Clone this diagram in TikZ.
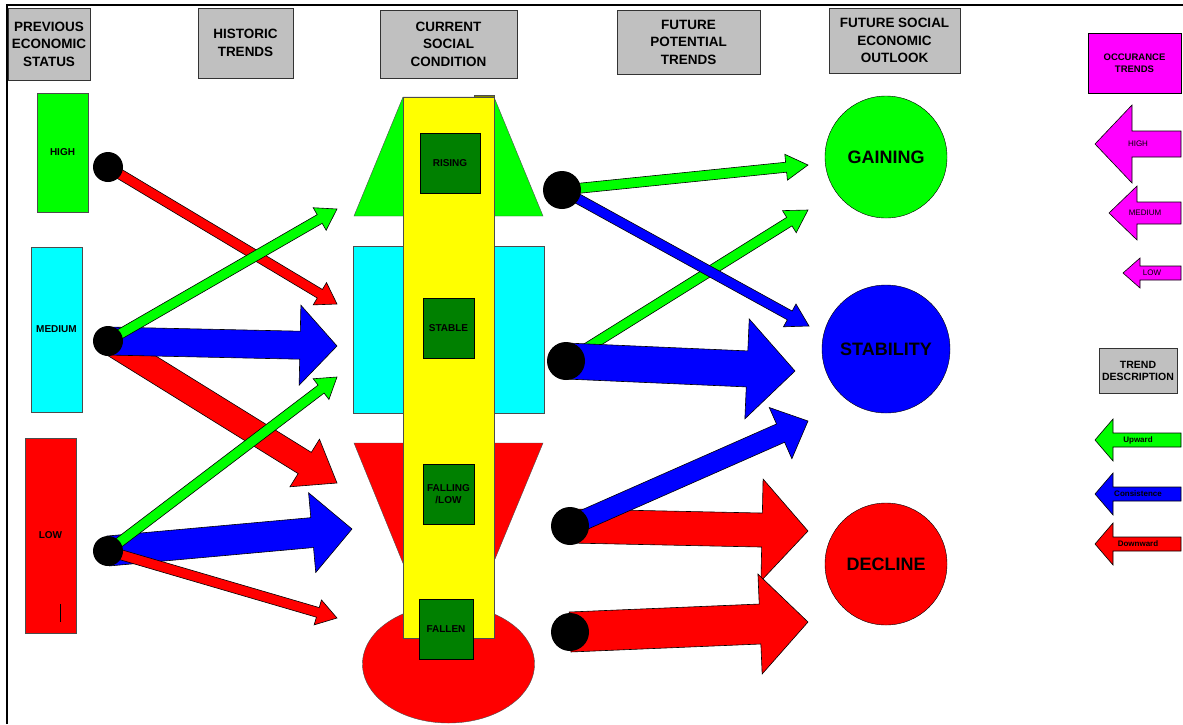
\documentclass[tikz,border=0pt]{standalone}
\usepackage{fontspec}
\setmainfont{Liberation Sans}
\usetikzlibrary{calc}

\definecolor{hdgray}{HTML}{C0C0C0}
\definecolor{brightgreen}{HTML}{00FF00}
\definecolor{darkgreen}{HTML}{008000}
\definecolor{tabolive}{HTML}{808000}
\definecolor{aqua}{HTML}{00FFFF}
\definecolor{fuchsia}{HTML}{FF00FF}
\definecolor{pureblue}{HTML}{0000FF}
\definecolor{purered}{HTML}{FF0000}
\definecolor{pureyellow}{HTML}{FFFF00}

% block arrow: colour, from, to, shaft half width, head half width, head length
\newcommand{\trendarrow}[6]{%
  \path ($(#3)!#6!(#2)$) coordinate (hb);
  \filldraw[fill=#1, draw=black, line width=0.6pt]
    ($(#2)!#4!90:(#3)$) -- ($(hb)!#4!-90:(#2)$) -- ($(hb)!#5!-90:(#2)$) -- (#3)
    -- ($(hb)!#5!90:(#2)$) -- ($(hb)!#4!90:(#2)$) -- ($(#2)!#4!-90:(#3)$) -- cycle;
}

\begin{document}
\begin{tikzpicture}[x=1pt, y=-1pt,
    hdr/.style={draw=black!80, fill=hdgray, align=center, inner sep=0pt,
      font=\bfseries\fontsize{13.5}{17.5}\selectfont},
    lvl/.style={draw=black!70, inner sep=0pt, minimum width=51pt,
      font=\bfseries\fontsize{10}{12}\selectfont},
    sq/.style={draw=black, fill=darkgreen, align=center, inner sep=0pt,
      font=\bfseries\fontsize{10}{12.5}\selectfont},
    dot/.style={circle, fill=black, inner sep=0pt},
    outlook/.style={circle, draw=black, inner sep=0pt, minimum size=122pt,
      font=\bfseries\fontsize{18}{20}\selectfont},
    leg/.style={inner sep=0pt, font=\fontsize{8}{9}\selectfont},
  ]
  \useasboundingbox (0,0) rectangle (1183,724);
  \draw[line width=1.6pt] (7,724) -- (7,5) -- (1183,5);

  % headers
  \node[hdr, minimum width=82pt, minimum height=72pt] (hPrev) at (49,44) {PREVIOUS\\ECONOMIC\\STATUS};
  \node[hdr, minimum width=95pt, minimum height=70pt] (hHist) at (245.5,43) {HISTORIC\\TRENDS};
  \node[hdr, minimum width=137pt, minimum height=68pt] (hCurr) at (448.5,44) {CURRENT\\SOCIAL\\CONDITION};
  \node[hdr, minimum width=143pt, minimum height=64pt] (hPot) at (688.5,42) {FUTURE\\POTENTIAL\\TRENDS};
  \node[hdr, minimum width=131pt, minimum height=65pt] (hOut) at (894.5,40.5) {FUTURE SOCIAL\\ECONOMIC\\OUTLOOK};

  % previous status
  \node[lvl, fill=brightgreen, minimum height=119pt] (lHigh) at (62.5,152.5) {HIGH};
  \node[lvl, fill=aqua, minimum height=165pt] (lMed) at (56.5,329.5) {MEDIUM};
  \node[lvl, fill=purered, minimum height=195pt] (lLow) at (50.5,535.5) {LOW};
  \draw (60,604) -- (60,622);

  % current condition column
  \filldraw[fill=brightgreen, draw=black!70] (403,97) -- (494,97) -- (543,216) -- (354,216) -- cycle;
  \filldraw[fill=aqua, draw=black!70] (353,246) rectangle (544,413);
  \filldraw[fill=purered, draw=black!70] (354,443) -- (543,443) -- (478,600) -- (418,600) -- cycle;
  \filldraw[fill=purered, draw=black!70] (448.5,664) ellipse [x radius=86pt, y radius=59pt];
  \filldraw[fill=tabolive, draw=black!70] (474,95) rectangle (494,110);
  \filldraw[fill=pureyellow, draw=black!70] (403,97) rectangle (494,638);
  \node[sq, minimum width=60pt, minimum height=60pt] (sRise) at (450,163) {RISING};
  \node[sq, minimum width=51pt, minimum height=60pt] (sStab) at (448.5,328) {STABLE};
  \node[sq, minimum width=51pt, minimum height=60pt] (sFall) at (448.5,494) {FALLING\\/LOW};
  \node[sq, minimum width=54pt, minimum height=60pt] (sGone) at (446,629) {FALLEN};

  % outlook
  \node[outlook, fill=brightgreen] (oGain) at (886,157) {GAINING};
  \node[outlook, fill=pureblue, minimum size=128pt] (oStab) at (886,349) {STABILITY};
  \node[outlook, fill=purered] (oDecl) at (886,564) {DECLINE};

  % historic trends
  \coordinate (pHigh) at (108,167);
  \coordinate (pMed) at (108,341);
  \coordinate (pLow) at (108,551);
  \coordinate (tipHR) at (337,304);
  \coordinate (tipMR) at (337,483);
  \coordinate (tipMB) at (337,346);
  \coordinate (tipMG) at (337,209);
  \coordinate (tipLB) at (352,529);
  \coordinate (tipLG) at (337,377);
  \coordinate (tipLR) at (337,618);
  \trendarrow{purered}{pHigh}{tipHR}{5pt}{13pt}{20pt}
  \trendarrow{purered}{pMed}{tipMR}{12.5pt}{28pt}{38pt}
  \trendarrow{pureblue}{pMed}{tipMB}{14pt}{40pt}{37pt}
  \trendarrow{brightgreen}{pMed}{tipMG}{5pt}{13pt}{20pt}
  \trendarrow{pureblue}{pLow}{tipLB}{15pt}{40pt}{40pt}
  \trendarrow{brightgreen}{pLow}{tipLG}{5pt}{13pt}{20pt}
  \trendarrow{purered}{pLow}{tipLR}{5pt}{13pt}{20pt}

  % future potential trends
  \coordinate (qRise) at (562,190);
  \coordinate (qStab) at (566,361);
  \coordinate (qFall) at (570,526);
  \coordinate (qGone) at (570,632);
  \coordinate (tipRG) at (808,165);
  \coordinate (tipRB) at (809,326);
  \coordinate (tipSG) at (808,210);
  \coordinate (tipSB) at (795,371);
  \coordinate (tipFB) at (808,421);
  \coordinate (tipFR) at (808,531);
  \coordinate (tipGR) at (808,622);
  \trendarrow{brightgreen}{qStab}{tipSG}{5pt}{13pt}{22pt}
  \trendarrow{pureblue}{qStab}{tipSB}{18pt}{50pt}{48pt}
  \trendarrow{pureblue}{qRise}{tipRB}{5pt}{13pt}{22pt}
  \trendarrow{brightgreen}{qRise}{tipRG}{5pt}{13pt}{22pt}
  \trendarrow{purered}{qFall}{tipFR}{17pt}{51pt}{46pt}
  \trendarrow{pureblue}{qFall}{tipFB}{10pt}{28pt}{30pt}
  \trendarrow{purered}{qGone}{tipGR}{20pt}{50pt}{48pt}

  \node[dot, minimum size=30pt] (dHigh) at (pHigh) {};
  \node[dot, minimum size=30pt] (dMed) at (pMed) {};
  \node[dot, minimum size=30pt] (dLow) at (pLow) {};
  \node[dot, minimum size=38pt] (dRise) at (qRise) {};
  \node[dot, minimum size=38pt] (dStab) at (qStab) {};
  \node[dot, minimum size=38pt] (dFall) at (qFall) {};
  \node[dot, minimum size=38pt] (dGone) at (qGone) {};

  % legend
  \node[draw=black, fill=fuchsia, minimum width=93pt, minimum height=60pt, align=center,
    inner sep=0pt, font=\bfseries\fontsize{9.5}{12.5}\selectfont] (gOcc) at (1134.5,63) {OCCURANCE\\TRENDS};
  \coordinate (mHighR) at (1181,144);
  \coordinate (mHighT) at (1095,144);
  \coordinate (mMedR) at (1181,213);
  \coordinate (mMedT) at (1109,213);
  \coordinate (mLowR) at (1181,273);
  \coordinate (mLowT) at (1123,273);
  \trendarrow{fuchsia}{mHighR}{mHighT}{13pt}{39pt}{37pt}
  \trendarrow{fuchsia}{mMedR}{mMedT}{11pt}{27pt}{28pt}
  \trendarrow{fuchsia}{mLowR}{mLowT}{7pt}{15pt}{17pt}
  \node[leg] at ($(mHighR)!0.5!(mHighT)$) {HIGH};
  \node[leg] at ($(mMedR)!0.5!(mMedT)$) {MEDIUM};
  \node[leg] at ($(mLowR)!0.5!(mLowT)$) {LOW};

  \node[hdr, minimum width=78pt, minimum height=45pt,
    font=\bfseries\fontsize{10.5}{12}\selectfont] (gDesc) at (1138,370.5) {TREND\\DESCRIPTION};
  \coordinate (uR) at (1181,440);
  \coordinate (uT) at (1095,440);
  \coordinate (cR) at (1181,494);
  \coordinate (cT) at (1095,494);
  \coordinate (wR) at (1181,544);
  \coordinate (wT) at (1095,544);
  \trendarrow{brightgreen}{uR}{uT}{7pt}{21pt}{18pt}
  \trendarrow{pureblue}{cR}{cT}{7pt}{21pt}{18pt}
  \trendarrow{purered}{wR}{wT}{7pt}{21pt}{18pt}
  \node[leg, font=\bfseries\fontsize{8}{9}\selectfont] at ($(uR)!0.5!(uT)$) {Upward};
  \node[leg, font=\bfseries\fontsize{8}{9}\selectfont] at ($(cR)!0.5!(cT)$) {Consistence};
  \node[leg, font=\bfseries\fontsize{8}{9}\selectfont] at ($(wR)!0.5!(wT)$) {Downward};
\end{tikzpicture}
\end{document}
